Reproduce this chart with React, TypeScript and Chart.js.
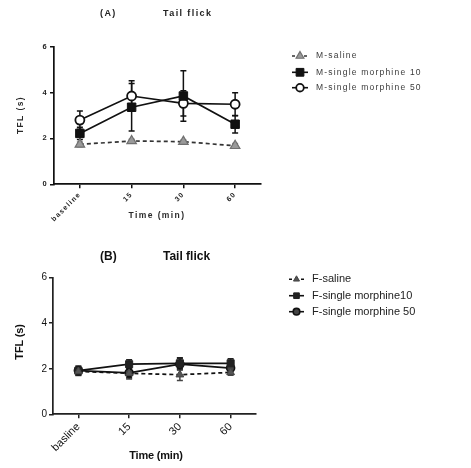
import React, { useEffect, useRef } from 'react';
import { Chart, registerables } from 'chart.js';

Chart.register(...registerables);

// Time points on the x axis (panel B keeps its own spelling)
const timePointsA = ['baseline', '15', '30', '60'];
const timePointsB = ['basline', '15', '30', '60'];
const yTickValues = [0, 2, 4, 6];

// Male groups: tail flick latency (s), mean and SEM
const mSalineMean = [1.74, 1.89, 1.86, 1.68];
const mSalineSem = [0.1, 0.07, 0.07, 0.1];
const mMorph10Mean = [2.22, 3.36, 3.85, 2.62];
const mMorph10Sem = [0.27, 1.04, 1.1, 0.38];
const mMorph50Mean = [2.8, 3.85, 3.53, 3.49];
const mMorph50Sem = [0.4, 0.67, 0.55, 0.5];

// Female groups
const fSalineMean = [1.88, 1.8, 1.74, 1.84];
const fSalineSem = [0.18, 0.25, 0.26, 0.12];
const fMorph10Mean = [1.92, 2.2, 2.24, 2.24];
const fMorph10Sem = [0.15, 0.2, 0.24, 0.2];
const fMorph50Mean = [1.92, 1.82, 2.2, 2.03];
const fMorph50Sem = [0.2, 0.22, 0.25, 0.25];

type Shape = 'triangle' | 'rect' | 'circle';

type Series = {
  label: string;
  mean: number[];
  sem: number[];
  shape: Shape;
  radius: number;
  legendRadius: number;
  fill: string;
  stroke: string;
  pointBorder: number;
  lineColor: string;
  barColor: string;
  dashed: boolean;
};

type TextStyle = { family: string; size: number; weight: string; spacing: number; color: string };

type Panel = {
  letter: string;
  heading: string;
  categories: string[];
  series: Series[];
  yTitle: string;
  xTitle: string;
  height: number;
  area: { left: number; right: number; top: number; bottom: number };
  headingY: number;
  letterX: number;
  headingX: number;
  yTitleX: number;
  yTitleY: number;
  xTitleX: number;
  xTitleY: number;
  legend: { x1: number; x2: number; textX: number; rows: number[] };
  headingFont: TextStyle;
  axisTitleFont: TextStyle;
  legendFont: TextStyle;
  tickFont: TextStyle;
  xTickFont: TextStyle;
  axisColor: string;
};

const WIDTH = 471;
const ARIAL = "'Liberation Sans', Arial, sans-serif";

const panelA: Panel = {
  letter: '(A)',
  heading: 'Tail flick',
  categories: timePointsA,
  series: [
    {
      label: 'M-saline', mean: mSalineMean, sem: mSalineSem, shape: 'triangle', radius: 5.5, legendRadius: 4.5,
      fill: '#9a9a9a', stroke: '#707070', pointBorder: 1.2, lineColor: '#333', barColor: '#888', dashed: true,
    },
    {
      label: 'M-single morphine 10', mean: mMorph10Mean, sem: mMorph10Sem, shape: 'rect', radius: 6, legendRadius: 5.5,
      fill: '#111', stroke: '#111', pointBorder: 1, lineColor: '#111', barColor: '#111', dashed: false,
    },
    {
      label: 'M-single morphine 50', mean: mMorph50Mean, sem: mMorph50Sem, shape: 'circle', radius: 4.5, legendRadius: 3.8,
      fill: '#fff', stroke: '#111', pointBorder: 1.8, lineColor: '#111', barColor: '#111', dashed: false,
    },
  ],
  yTitle: 'TFL (s)',
  xTitle: 'Time (min)',
  height: 232,
  area: { left: 54, right: 261, top: 46.7, bottom: 184.3 },
  headingY: 13.5,
  letterX: 100,
  headingX: 163,
  yTitleX: 21,
  yTitleY: 115,
  xTitleX: 157,
  xTitleY: 216,
  legend: { x1: 292, x2: 308, textX: 316, rows: [56, 72.3, 87.7] },
  headingFont: { family: ARIAL, size: 9, weight: 'bold', spacing: 1.4, color: '#222' },
  axisTitleFont: { family: ARIAL, size: 8.5, weight: 'bold', spacing: 1.4, color: '#2a2a2a' },
  legendFont: { family: ARIAL, size: 8.5, weight: 'normal', spacing: 1.2, color: '#3a3a3a' },
  tickFont: { family: ARIAL, size: 7.5, weight: 'bold', spacing: 1.3, color: '#222' },
  xTickFont: { family: ARIAL, size: 7, weight: 'bold', spacing: 1.3, color: '#222' },
  axisColor: '#111',
};

const panelB: Panel = {
  letter: '(B)',
  heading: 'Tail flick',
  categories: timePointsB,
  series: [
    {
      label: 'F-saline', mean: fSalineMean, sem: fSalineSem, shape: 'triangle', radius: 4.5, legendRadius: 3.5,
      fill: '#555', stroke: '#444', pointBorder: 1, lineColor: '#111', barColor: '#444', dashed: true,
    },
    {
      label: 'F-single morphine10', mean: fMorph10Mean, sem: fMorph10Sem, shape: 'rect', radius: 5, legendRadius: 4,
      fill: '#222', stroke: '#222', pointBorder: 1, lineColor: '#111', barColor: '#222', dashed: false,
    },
    {
      label: 'F-single morphine 50', mean: fMorph50Mean, sem: fMorph50Sem, shape: 'circle', radius: 4, legendRadius: 3.3,
      fill: '#444', stroke: '#111', pointBorder: 1.6, lineColor: '#111', barColor: '#222', dashed: false,
    },
  ],
  yTitle: 'TFL (s)',
  xTitle: 'Time (min)',
  height: 236,
  area: { left: 53, right: 256, top: 45.7, bottom: 182.3 },
  headingY: 25,
  letterX: 100,
  headingX: 163,
  yTitleX: 20,
  yTitleY: 110,
  xTitleX: 156,
  xTitleY: 224,
  legend: { x1: 289, x2: 304, textX: 312, rows: [47.3, 63.7, 79.7] },
  headingFont: { family: ARIAL, size: 12, weight: 'bold', spacing: 0, color: '#111' },
  axisTitleFont: { family: ARIAL, size: 11, weight: 'bold', spacing: -0.2, color: '#111' },
  legendFont: { family: ARIAL, size: 11, weight: 'normal', spacing: 0, color: '#222' },
  tickFont: { family: ARIAL, size: 10, weight: 'normal', spacing: 0, color: '#111' },
  xTickFont: { family: ARIAL, size: 11, weight: 'normal', spacing: 0, color: '#111' },
  axisColor: '#222',
};

function setFont(ctx: CanvasRenderingContext2D, f: TextStyle) {
  ctx.font = `${f.weight} ${f.size}px ${f.family}`;
  (ctx as any).letterSpacing = `${f.spacing}px`;
  ctx.fillStyle = f.color;
}

function drawMarker(
  ctx: CanvasRenderingContext2D, shape: Shape, x: number, y: number, r: number,
  fill: string, stroke: string, lw: number,
) {
  ctx.save();
  ctx.beginPath();
  if (shape === 'circle') {
    ctx.arc(x, y, r, 0, Math.PI * 2);
  } else if (shape === 'rect') {
    const s = r * Math.SQRT1_2;
    ctx.rect(x - s, y - s, 2 * s, 2 * s);
  } else {
    let a = 0;
    ctx.moveTo(x + Math.sin(a) * r, y - Math.cos(a) * r);
    a += (2 * Math.PI) / 3;
    ctx.lineTo(x + Math.sin(a) * r, y - Math.cos(a) * r);
    a += (2 * Math.PI) / 3;
    ctx.lineTo(x + Math.sin(a) * r, y - Math.cos(a) * r);
    ctx.closePath();
  }
  ctx.fillStyle = fill;
  ctx.fill();
  ctx.lineWidth = lw;
  ctx.strokeStyle = stroke;
  ctx.stroke();
  ctx.restore();
}

function buildConfig(panel: Panel): any {
  const { area } = panel;

  const panelText = {
    id: 'panelText',
    beforeDraw(chart: any) {
      // spacing used by the tick labels
      (chart.ctx as any).letterSpacing = `${panel.tickFont.spacing}px`;
    },
    beforeDatasetsDraw(chart: any) {
      // SEM error bars with caps, drawn under the markers
      const ctx: CanvasRenderingContext2D = chart.ctx;
      const yScale = chart.scales.y;
      ctx.save();
      chart.data.datasets.forEach((ds: any, i: number) => {
        const meta = chart.getDatasetMeta(i);
        ctx.strokeStyle = ds.barColor;
        ctx.lineWidth = 1.5;
        ds.data.forEach((v: number, j: number) => {
          const x = meta.data[j].x;
          const top = yScale.getPixelForValue(v + ds.errors[j]);
          const bottom = yScale.getPixelForValue(v - ds.errors[j]);
          ctx.beginPath();
          ctx.moveTo(x, top);
          ctx.lineTo(x, bottom);
          ctx.moveTo(x - 3, top);
          ctx.lineTo(x + 3, top);
          ctx.moveTo(x - 3, bottom);
          ctx.lineTo(x + 3, bottom);
          ctx.stroke();
        });
      });
      ctx.restore();
    },
    afterDraw(chart: any) {
      const ctx: CanvasRenderingContext2D = chart.ctx;
      ctx.save();
      ctx.textBaseline = 'middle';

      // heading
      setFont(ctx, panel.headingFont);
      ctx.textAlign = 'left';
      ctx.fillText(panel.letter, panel.letterX, panel.headingY);
      ctx.fillText(panel.heading, panel.headingX, panel.headingY);

      // axis titles
      setFont(ctx, panel.axisTitleFont);
      ctx.textAlign = 'center';
      ctx.fillText(panel.xTitle, panel.xTitleX, panel.xTitleY);
      ctx.save();
      ctx.translate(panel.yTitleX, panel.yTitleY);
      ctx.rotate(-Math.PI / 2);
      ctx.fillText(panel.yTitle, 0, 0);
      ctx.restore();

      // legend
      const lg = panel.legend;
      panel.series.forEach((s, i) => {
        const y = lg.rows[i];
        ctx.save();
        ctx.strokeStyle = s.lineColor;
        ctx.lineWidth = 1.6;
        if (s.dashed) ctx.setLineDash([3, 3]);
        ctx.beginPath();
        ctx.moveTo(lg.x1, y);
        ctx.lineTo(lg.x2, y);
        ctx.stroke();
        ctx.restore();
        drawMarker(ctx, s.shape, (lg.x1 + lg.x2) / 2, y, s.legendRadius, s.fill, s.stroke, s.pointBorder);
        setFont(ctx, panel.legendFont);
        ctx.textAlign = 'left';
        ctx.fillText(s.label, lg.textX, y);
      });
      ctx.restore();
    },
  };

  const tickFont = (f: TextStyle) => ({ family: f.family, size: f.size, weight: f.weight as any });

  return {
    type: 'line',
    data: {
      labels: panel.categories,
      datasets: panel.series.map((s) => ({
        label: s.label,
        data: s.mean,
        errors: s.sem,
        barColor: s.barColor,
        borderColor: s.lineColor,
        borderWidth: 1.7,
        borderDash: s.dashed ? [4, 3] : [],
        tension: 0,
        fill: false,
        pointStyle: s.shape,
        pointRadius: s.radius,
        pointBackgroundColor: s.fill,
        pointBorderColor: s.stroke,
        pointBorderWidth: s.pointBorder,
      })),
    },
    options: {
      responsive: false,
      animation: false,
      events: [],
      layout: { padding: { top: area.top, right: WIDTH - area.right, bottom: 0, left: 0 } },
      plugins: {
        legend: { display: false },
        title: { display: false },
        tooltip: { enabled: false },
      },
      scales: {
        x: {
          type: 'category',
          offset: true,
          grid: {
            display: true, drawOnChartArea: false, drawTicks: true, tickLength: 4,
            color: panel.axisColor, lineWidth: 1.5, offset: false,
          },
          border: { display: true, color: panel.axisColor, width: 1.7 },
          ticks: {
            autoSkip: false, minRotation: 45, maxRotation: 45, padding: 2,
            font: tickFont(panel.xTickFont), color: panel.xTickFont.color,
          },
          afterFit: (s: any) => { s.height = panel.height - area.bottom; },
        },
        y: {
          min: 0,
          max: 6,
          grid: {
            display: true, drawOnChartArea: false, drawTicks: true, tickLength: 4,
            color: panel.axisColor, lineWidth: 1.5,
          },
          border: { display: true, color: panel.axisColor, width: 1.7 },
          ticks: { padding: 2, font: tickFont(panel.tickFont), color: panel.tickFont.color },
          afterBuildTicks: (s: any) => { s.ticks = yTickValues.map((v) => ({ value: v })); },
          afterFit: (s: any) => { s.width = area.left; },
        },
      },
    },
    plugins: [panelText],
  };
}

function PanelChart({ panel, top }: { panel: Panel; top: number }) {
  const ref = useRef<HTMLCanvasElement>(null);
  useEffect(() => {
    const chart = new Chart(ref.current as HTMLCanvasElement, buildConfig(panel));
    return () => chart.destroy();
  }, [panel]);
  return (
    <canvas
      ref={ref}
      width={WIDTH}
      height={panel.height}
      style={{ position: 'absolute', left: 0, top, width: WIDTH, height: panel.height, display: 'block' }}
    />
  );
}

export default function App() {
  return (
    <div style={{ position: 'absolute', left: 0, top: 0, width: WIDTH, height: 468, overflow: 'hidden', background: '#fff' }}>
      <PanelChart panel={panelA} top={0} />
      <PanelChart panel={panelB} top={232} />
    </div>
  );
}
